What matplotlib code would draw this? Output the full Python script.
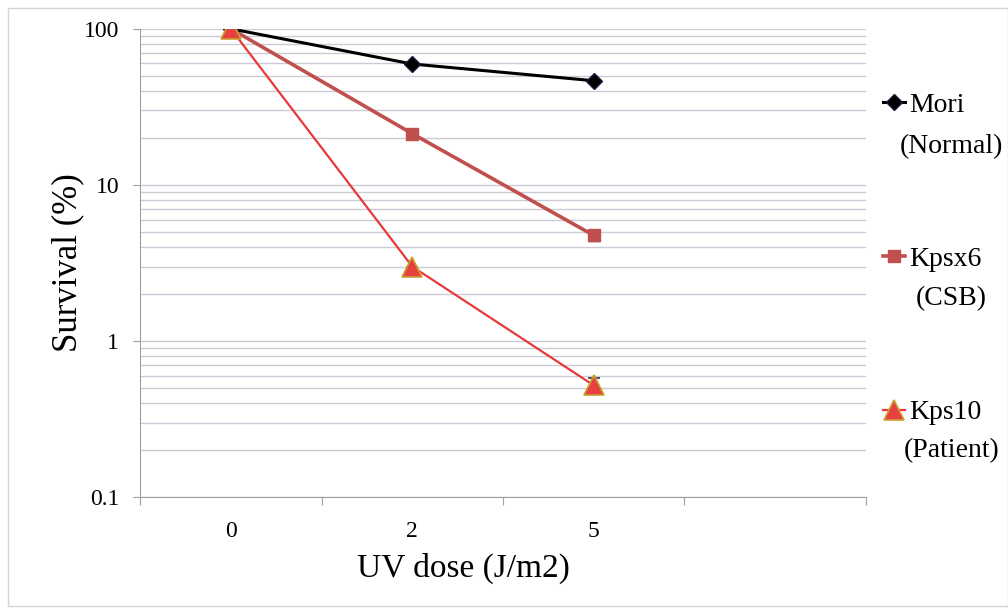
import numpy as np
import matplotlib.pyplot as plt
from matplotlib.patches import Rectangle

# survival curves
doses = ['0', '2', '5']
mori = [100, 59.5, 46.5]
kpsx6 = [100, 21.3, 4.75]
kpsx6_err = [0, 0, 0.4]
kps10 = [100, 3.0, 0.52]
kps10_err = [0, 0, 0.06]
names = ['Mori', 'Kpsx6', 'Kps10']
subnames = ['(Normal)', '(CSB)', '(Patient)']

plt.rcParams['font.family'] = ['Liberation Serif', 'DejaVu Serif']

fig = plt.figure(figsize=(10.08, 6.13), dpi=100)
ax = fig.add_axes([0.139, 0.189, 0.72, 0.764])
fig.patches.append(Rectangle((0.008, 0.012), 0.992, 0.975, transform=fig.transFigure,
                             fill=False, edgecolor='#d4d4d4', lw=1))

x = np.arange(len(doses))
l1, = ax.plot(x, mori, color='black', lw=2.2, marker='D', ms=8, mfc='black', mec='#1a1a3a', zorder=4)
l2 = ax.errorbar(x, kpsx6, yerr=kpsx6_err, color='#c0504d', lw=2.6, marker='s', ms=8,
                 ecolor='#333333', elinewidth=1, capsize=4, zorder=3)
l3 = ax.errorbar(x, kps10, yerr=kps10_err, color='#e8393a', lw=1.6, marker='^', ms=14,
                 mfc='#e84040', mec='#c8a030', mew=1.2, ecolor='#333333', elinewidth=1,
                 capsize=4, zorder=5)

ax.set_yscale('log')
ax.set_ylim(0.1, 100)
ax.set_xlim(-0.5, 3.5)
ax.set_yticks([0.1, 1, 10, 100])
ax.set_yticklabels(['0.1', '1', '10', '100'])
ax.yaxis.set_minor_locator(plt.LogLocator(base=10, subs=np.arange(2, 10)))
ax.yaxis.set_minor_formatter(plt.NullFormatter())
ax.tick_params(axis='y', which='major', length=5, color='#a0a0a0', labelsize=17, pad=10)
ax.tick_params(axis='y', which='minor', length=0)
ax.grid(True, axis='y', which='both', color='#cdc9d6', lw=1)

ax.set_xticks(np.arange(-0.5, 4, 1))
ax.set_xticklabels([])
ax.set_xticks(x, minor=True)
ax.set_xticklabels(doses, minor=True)
ax.tick_params(axis='x', which='major', length=6, color='#a0a0a0')
ax.tick_params(axis='x', which='minor', length=0, labelsize=17, pad=17)

for s in ['top', 'right']:
    ax.spines[s].set_visible(False)
for s in ['left', 'bottom']:
    ax.spines[s].set_color('#a0a0a0')

ax.set_ylabel('Survival (%)', fontsize=25, labelpad=0)
ax.set_xlabel('UV dose (J/m2)', fontsize=24, labelpad=8, x=0.445)

leg = ax.legend([l1, l2[0], l3[0]], names, loc='upper left', bbox_to_anchor=(1.0, 0.9),
                frameon=False, fontsize=20, labelspacing=4.62, handlelength=0.8,
                handletextpad=0.15, borderaxespad=0.2)
for i, s in enumerate(subnames):
    fig.text(0.944, 1 - (147 + 152 * i) / 613, s, fontsize=20, ha='center', va='center')

fig.savefig('out.png', dpi=100)
